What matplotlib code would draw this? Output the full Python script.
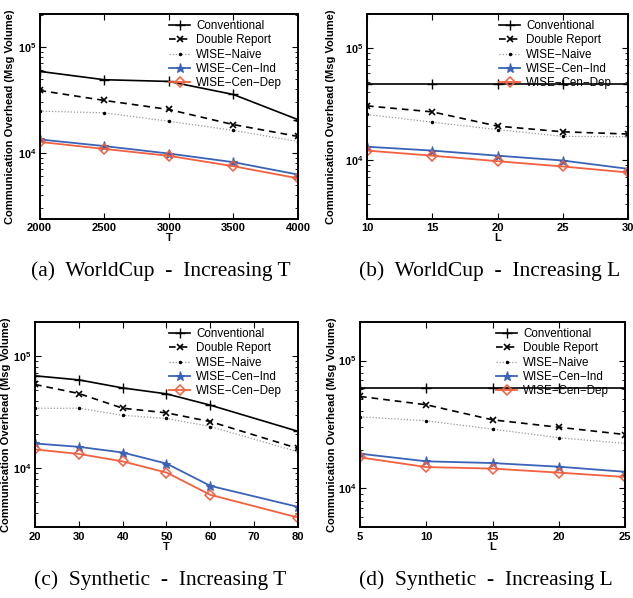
import numpy as np
import matplotlib
matplotlib.use("Agg")
import matplotlib.pyplot as plt
from matplotlib.ticker import LogLocator, FixedLocator, FixedFormatter, NullFormatter

plt.rcParams.update({
    "font.family": "Liberation Sans",
    "mathtext.fontset": "custom",
    "mathtext.rm": "Liberation Sans:bold",
    "mathtext.bf": "Liberation Sans:bold",
    "xtick.direction": "in",
    "ytick.direction": "in",
    "xtick.top": True,
    "ytick.right": True,
})

# ── Data ────────────────────────────────────────────────────────
LABELS = ["Conventional", "Double Report", "WISE\u2212Naive",
          "WISE\u2212Cen\u2212Ind", "WISE\u2212Cen\u2212Dep"]

# (a) WorldCup - increasing T
a_x = [2000, 2500, 3000, 3500, 4000]
a_conv  = [58900, 49100, 47300, 35600, 20600]
a_dbl   = [38900, 31300, 25700, 18500, 14300]
a_naive = [24800, 23900, 19900, 16300, 12800]
a_ind   = [13400, 11600, 9860, 8170, 6240]
a_dep   = [12700, 10900, 9380, 7480, 5750]

# (b) WorldCup - increasing L
b_x = [10, 15, 20, 25, 30]
b_conv  = [47900, 47900, 47900, 47900, 47900]
b_dbl   = [30300, 26800, 20000, 17800, 17000]
b_naive = [25400, 21700, 18600, 16200, 16100]
b_ind   = [13100, 12100, 10900, 9870, 8320]
b_dep   = [12100, 10900, 9730, 8730, 7720]

# (c) Synthetic - increasing T
c_x = [20, 30, 40, 50, 60, 80]
c_conv  = [66400, 61100, 51800, 45900, 36400, 21300]
c_dbl   = [55600, 46200, 34200, 31100, 26000, 15000]
c_naive = [34200, 34200, 29600, 27700, 23500, 14000]
c_ind   = [16600, 15500, 13800, 11000, 6970, 4530]
c_dep   = [14700, 13400, 11500, 9150, 5800, 3640]

# (d) Synthetic - increasing L
d_x = [5, 10, 15, 20, 25]
d_conv  = [60800, 60800, 60800, 60800, 60800]
d_dbl   = [52400, 45100, 34400, 30100, 26400]
d_naive = [36300, 33800, 29100, 24900, 22500]
d_ind   = [18700, 16300, 15800, 14800, 13500]
d_dep   = [17500, 14700, 14300, 13300, 12300]

BLUE = "#3a63b8"
RED = "#f2603f"
GRAY = "#9a9a9a"

W, H = 633, 598
fig = plt.figure(figsize=(W / 100, H / 100), dpi=100)


def panel(l, t, r, b, x, series, xticks, xlabel, ylim, caption, cap_xy, ylab_x):
    ax = fig.add_axes([l / W, 1 - b / H, (r - l) / W, (b - t) / H])
    conv, dbl, naive, ind, dep = series
    ax.plot(x, conv, color="k", lw=1.2, marker="+", ms=7, mew=1.0, label=LABELS[0])
    ax.plot(x, dbl, color="k", lw=1.2, ls=(0, (4, 3)), marker="x", ms=5, mew=1.2,
            label=LABELS[1])
    ax.plot(x, naive, color=GRAY, lw=0.9, ls=(0, (1, 1.5)), marker=".", ms=3,
            mfc="k", mec="k", label=LABELS[2])
    ax.plot(x, ind, color=BLUE, lw=1.3, marker="*", ms=6.5, mew=0.8, label=LABELS[3])
    ax.plot(x, dep, color=RED, lw=1.3, marker="D", ms=5.5, mfc="none", mew=1.1,
            label=LABELS[4])
    ax.set_yscale("log")
    ax.set_ylim(*ylim)
    ax.set_xlim(xticks[0], xticks[-1])
    ax.xaxis.set_major_locator(FixedLocator(xticks))
    ax.set_xticklabels([str(v) for v in xticks], fontweight="bold", fontsize=8)
    ax.yaxis.set_major_locator(FixedLocator([1e4, 1e5]))
    ax.yaxis.set_major_formatter(FixedFormatter([r"$10^{4}$", r"$10^{5}$"]))
    ax.yaxis.set_minor_locator(LogLocator(base=10, subs=np.arange(2, 10)))
    ax.yaxis.set_minor_formatter(NullFormatter())
    ax.tick_params(which="major", length=4, width=0.8, pad=3.5)
    ax.tick_params(which="minor", length=2, width=0.6)
    ax.tick_params(axis="y", labelsize=7.8, pad=2.5)
    for s in ax.spines.values():
        s.set_linewidth(1.4)
    ax.set_xlabel(xlabel, fontweight="bold", fontsize=8, labelpad=0)
    ax.set_ylabel("Communication Overhead (Msg Volume)", fontweight="bold", fontsize=8)
    ax.yaxis.set_label_coords((ylab_x - l) / (r - l), 0.5)
    ax.legend(loc="upper right", frameon=False, fontsize=8.4, handlelength=1.8,
              handletextpad=0.5, labelspacing=0.2, borderaxespad=0, borderpad=0,
              bbox_to_anchor=(1 - 16 / (r - l), 1 - 6 / (b - t)))
    fig.text(cap_xy[0] / W, 1 - cap_xy[1] / H, caption, ha="center", va="center",
             family="Liberation Serif", fontsize=15.5)
    return ax


panel(39.5, 14, 298, 218.5, a_x, [a_conv, a_dbl, a_naive, a_ind, a_dep],
      [2000, 2500, 3000, 3500, 4000], "T", (2.4e3, 2.05e5),
      "(a)  WorldCup  -  Increasing T", (161, 271), 15)
panel(367, 14, 628, 218.5, b_x, [b_conv, b_dbl, b_naive, b_ind, b_dep],
      [10, 15, 20, 25, 30], "L", (3e3, 2e5),
      "(b)  WorldCup  -  Increasing L", (490, 271), 336)
panel(35, 322, 298, 527, c_x, [c_conv, c_dbl, c_naive, c_ind, c_dep],
      [20, 30, 40, 50, 60, 70, 80], "T", (3e3, 2e5),
      "(c)  Synthetic  -  Increasing T", (160, 580), 11.5)
panel(360, 322, 625, 527, d_x, [d_conv, d_dbl, d_naive, d_ind, d_dep],
      [5, 10, 15, 20, 25], "L", (5e3, 2e5),
      "(d)  Synthetic  -  Increasing L", (486, 580), 337)

fig.savefig("out.png", dpi=100)
